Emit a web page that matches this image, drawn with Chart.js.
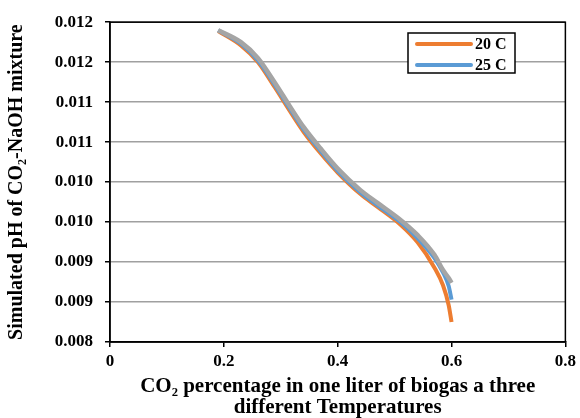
<!DOCTYPE html>
<html lang="en">
<head>
    <meta charset="UTF-8">
    <title>Simulated pH chart</title>
    <script src="https://cdn.jsdelivr.net/npm/chart.js"></script>
    <style>
        body { margin: 0; background: #fff; }
        #phChart { display: block; }
    </style>
</head>
<body>
    <canvas id="phChart" width="580" height="418"></canvas>
    <script>
        // CO2 fraction (x)
        var co2Fraction = [0.19, 0.23, 0.26, 0.29, 0.315, 0.34, 0.37, 0.40, 0.44, 0.47, 0.51, 0.54, 0.57, 0.585, 0.595, 0.60];

        // simulated pH values per temperature
        var ph20 = [0.01189, 0.01171, 0.0115, 0.01118, 0.0109, 0.01063, 0.01036, 0.01012, 0.00985, 0.00969, 0.00947, 0.00925, 0.00893, 0.00871, 0.00846, 0.00825];
        var ph25 = [0.01190, 0.01173, 0.01152, 0.01121, 0.01093, 0.01066, 0.01039, 0.01014, 0.00987, 0.00971, 0.00950, 0.00930, 0.00905, 0.00887, 0.00870, 0.00853];
        var ph30 = [0.01190, 0.01175, 0.01155, 0.01124, 0.01096, 0.01069, 0.01042, 0.01017, 0.00990, 0.00974, 0.00953, 0.00934, 0.00909, 0.00890, 0.00880, 0.00874];

        // Excel-style rounded tick labels
        var yTickLabels = ['0.008', '0.009', '0.009', '0.010', '0.010', '0.011', '0.011', '0.012', '0.012'];
        var xTickLabels = ['0', '0.2', '0.4', '0.6', '0.8'];

        // only two of the three series are listed in the legend
        var legendOrder = ['20 C', '25 C'];

        function toPoints(ys) {
            return co2Fraction.map(function (x, i) { return { x: x, y: ys[i] }; });
        }

        var fontFamily = '"Liberation Serif", "Times New Roman", serif';

        // box around the plot area
        var frameBox = {
            id: 'frameBox',
            afterDraw: function (chart) {
                var a = chart.chartArea, ctx = chart.ctx;
                ctx.save();
                ctx.strokeStyle = '#000';
                ctx.lineWidth = 1.5;
                ctx.strokeRect(a.left, a.top, a.right - a.left, a.bottom - a.top);
                ctx.restore();
            }
        };

        // legend inside the plot, top right
        var innerLegend = {
            id: 'innerLegend',
            afterDraw: function (chart) {
                var ctx = chart.ctx;
                var x = 408, y = 33, w = 107, h = 40;
                ctx.save();
                ctx.fillStyle = '#fff';
                ctx.fillRect(x, y, w, h);
                ctx.strokeStyle = '#000';
                ctx.lineWidth = 1.5;
                ctx.strokeRect(x, y, w, h);
                legendOrder.forEach(function (name, i) {
                    var d = chart.data.datasets.find(function (ds) { return ds.label === name; });
                    var ly = y + 11 + i * 21;
                    ctx.strokeStyle = d.borderColor;
                    ctx.lineWidth = 4;
                    ctx.lineCap = 'round';
                    ctx.beginPath();
                    ctx.moveTo(x + 9, ly);
                    ctx.lineTo(x + 63, ly);
                    ctx.stroke();
                    ctx.fillStyle = '#000';
                    ctx.font = 'bold 16px ' + fontFamily;
                    ctx.textBaseline = 'middle';
                    ctx.fillText(d.label, x + 67, ly + 1);
                });
                ctx.restore();
            }
        };

        var ctx = document.getElementById('phChart').getContext('2d');
        var phChart = new Chart(ctx, {
            type: 'line',
            data: {
                datasets: [
                    { label: '30 C', data: toPoints(ph30), borderColor: '#A5A5A5', borderWidth: 4.5 },
                    { label: '25 C', data: toPoints(ph25), borderColor: '#5B9BD5', borderWidth: 4 },
                    { label: '20 C', data: toPoints(ph20), borderColor: '#ED7D31', borderWidth: 4 }
                ].map(function (d, i) {
                    d.pointRadius = 0;
                    d.fill = false;
                    d.cubicInterpolationMode = 'monotone';
                    d.order = i;
                    return d;
                })
            },
            options: {
                responsive: false,
                animation: false,
                layout: { padding: { left: 0, right: 13, top: 22, bottom: 0 } },
                plugins: {
                    legend: { display: false },
                    tooltip: { enabled: false }
                },
                scales: {
                    x: {
                        type: 'linear',
                        min: 0,
                        max: 0.8,
                        afterFit: function (scale) { scale.height = 76; },
                        grid: { drawOnChartArea: false, color: '#000', tickLength: 5, lineWidth: 1.5 },
                        border: { color: '#000', width: 1.5 },
                        ticks: {
                            stepSize: 0.2,
                            padding: 4,
                            color: '#000',
                            font: { family: fontFamily, size: 17, weight: 'bold' },
                            callback: function (v, i) { return xTickLabels[i]; }
                        },
                        title: {
                            display: true,
                            text: ['CO\u2082 percentage in one liter of biogas a three', 'different Temperatures'],
                            color: '#000',
                            padding: { top: 2, bottom: 0 },
                            font: { family: fontFamily, size: 21, weight: 'bold', lineHeight: 1.0 }
                        }
                    },
                    y: {
                        min: 0.008,
                        max: 0.012,
                        afterFit: function (scale) { scale.width = 110; },
                        grid: { color: '#A0A0A0', lineWidth: 1.5, tickLength: 5, tickColor: '#000' },
                        border: { color: '#000', width: 1.5 },
                        ticks: {
                            stepSize: 0.0005,
                            padding: 12,
                            color: '#000',
                            font: { family: fontFamily, size: 17, weight: 'bold' },
                            callback: function (v, i) { return yTickLabels[i]; }
                        },
                        title: {
                            display: true,
                            text: 'Simulated pH of CO\u2082-NaOH mixture',
                            color: '#000',
                            padding: { top: 5, bottom: 0 },
                            font: { family: fontFamily, size: 20, weight: 'bold' }
                        }
                    }
                }
            },
            plugins: [frameBox, innerLegend]
        });
    </script>
</body>
</html>
